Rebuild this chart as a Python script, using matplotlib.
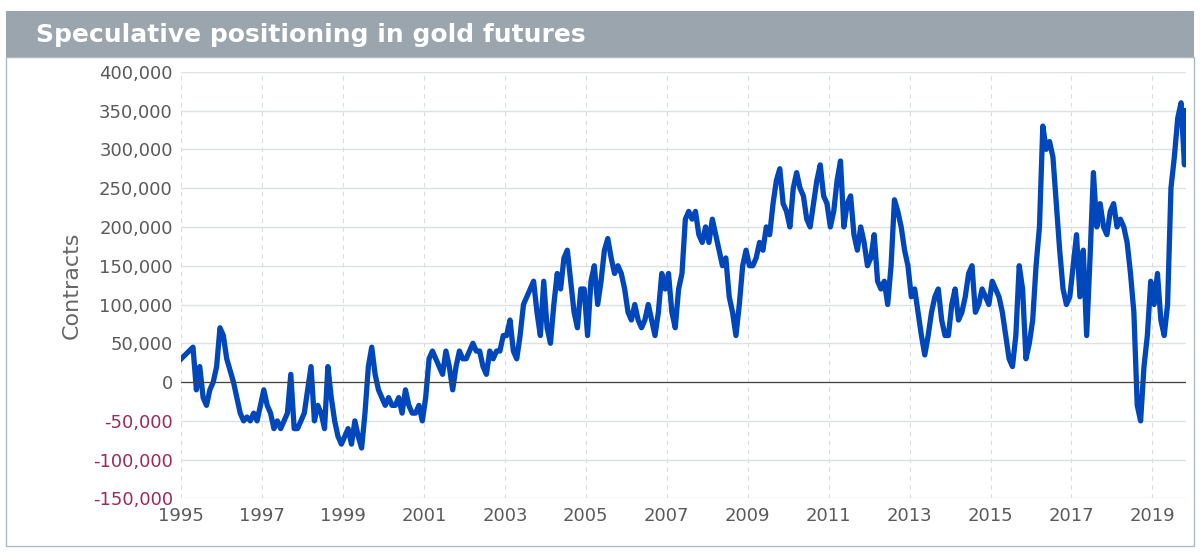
import numpy as np
import matplotlib.pyplot as plt
from matplotlib.ticker import FuncFormatter, MultipleLocator

# monthly net speculative positions (contracts), from April 1995
start_year = 1995.25
positions = [
    # 1995 (Apr-Dec)
    45000, -10000, 20000, -20000, -30000, -10000, 0, 20000, 70000,
    # 1996
    60000, 30000, 15000, 0, -20000, -40000, -50000, -45000, -50000, -40000, -50000, -30000,
    # 1997
    -10000, -30000, -40000, -60000, -50000, -60000, -50000, -40000, 10000, -60000, -60000, -50000,
    # 1998
    -40000, -10000, 20000, -50000, -30000, -40000, -60000, 20000, -20000, -50000, -70000, -80000,
    # 1999
    -70000, -60000, -80000, -50000, -70000, -85000, -40000, 20000, 45000, 10000, -10000, -20000,
    # 2000
    -30000, -20000, -30000, -30000, -20000, -40000, -10000, -30000, -40000, -40000, -30000, -50000,
    # 2001
    -20000, 30000, 40000, 30000, 20000, 10000, 40000, 20000, -10000, 20000, 40000, 30000,
    # 2002
    30000, 40000, 50000, 40000, 40000, 20000, 10000, 40000, 30000, 40000, 40000, 60000,
    # 2003
    60000, 80000, 40000, 30000, 60000, 100000, 110000, 120000, 130000, 90000, 60000, 130000,
    # 2004
    70000, 50000, 100000, 140000, 120000, 160000, 170000, 130000, 90000, 70000, 120000, 120000,
    # 2005
    60000, 130000, 150000, 100000, 130000, 170000, 185000, 160000, 140000, 150000, 140000, 120000,
    # 2006
    90000, 80000, 100000, 80000, 70000, 80000, 100000, 80000, 60000, 90000, 140000, 120000,
    # 2007
    140000, 90000, 70000, 120000, 140000, 210000, 220000, 210000, 220000, 190000, 180000, 200000,
    # 2008
    180000, 210000, 190000, 170000, 150000, 160000, 110000, 90000, 60000, 100000, 150000, 170000,
    # 2009
    150000, 150000, 160000, 180000, 170000, 200000, 190000, 230000, 260000, 275000, 230000, 220000,
    # 2010
    200000, 250000, 270000, 250000, 240000, 210000, 200000, 230000, 260000, 280000, 240000, 230000,
    # 2011
    200000, 220000, 260000, 285000, 200000, 230000, 240000, 190000, 170000, 200000, 180000, 150000,
    # 2012
    160000, 190000, 130000, 120000, 130000, 100000, 150000, 235000, 220000, 200000, 170000, 150000,
    # 2013
    110000, 120000, 90000, 60000, 35000, 60000, 90000, 110000, 120000, 80000, 60000, 60000,
    # 2014
    100000, 120000, 80000, 90000, 110000, 140000, 150000, 90000, 100000, 120000, 110000, 100000,
    # 2015
    130000, 120000, 110000, 90000, 60000, 30000, 20000, 60000, 150000, 120000, 30000, 50000,
    # 2016
    80000, 150000, 200000, 330000, 300000, 310000, 290000, 230000, 170000, 120000, 100000, 110000,
    # 2017
    150000, 190000, 110000, 170000, 60000, 160000, 270000, 200000, 230000, 200000, 190000, 220000,
    # 2018
    230000, 200000, 210000, 200000, 180000, 140000, 90000, -30000, -50000, 20000, 60000, 130000,
    # 2019
    100000, 140000, 80000, 60000, 100000, 250000, 290000, 340000, 360000, 280000,
]
first_value = 30000
end_value = 350000

t = start_year + (np.arange(len(positions)) + 0.5) / 12
t = np.append(np.insert(t, 0, 1995.0), 2019.82)
y = np.append(np.insert(np.array(positions, dtype=float), 0, first_value), end_value)

fig = plt.figure(figsize=(12, 5.52), dpi=100)
fig.patch.set_facecolor("white")

# title bar and frame
fig.patches.append(plt.Rectangle((0.005, 0.897), 0.99, 0.083, transform=fig.transFigure,
                                 facecolor="#9ba5ae", edgecolor="none"))
fig.patches.append(plt.Rectangle((0.005, 0.01), 0.99, 0.887, transform=fig.transFigure,
                                 facecolor="none", edgecolor="#b0b8c0", lw=1))
fig.text(0.03, 0.937, "Speculative positioning in gold futures", color="white",
         fontsize=18, fontweight="bold", va="center", family="DejaVu Sans")

ax = fig.add_axes([0.151, 0.097, 0.837, 0.773])
ax.plot(t, y, color="#0047bb", lw=3.8, solid_joinstyle="round")
ax.axhline(0, color="#444444", lw=0.9)

ax.set_xlim(1995, 2019.82)
ax.set_ylim(-150000, 400000)
ax.yaxis.set_major_locator(MultipleLocator(50000))
ax.set_xticks(range(1995, 2020, 2))
ax.yaxis.set_major_formatter(FuncFormatter(lambda v, p: "0" if v == 0 else f"{v:,.0f}"))
ax.grid(axis="y", color="#dde1e4", lw=1)
ax.grid(axis="x", color="#d8dcdf", lw=0.8, ls=(0, (4, 4)))
ax.set_axisbelow(True)
for s in ax.spines.values():
    s.set_visible(False)
ax.tick_params(length=0, labelsize=13, labelcolor="#5a5a5a", pad=6)
fig.canvas.draw()
for lbl, v in zip(ax.get_yticklabels(), ax.get_yticks()):
    if v < 0:
        lbl.set_color("#9b2b5a")
ax.set_ylabel("Contracts", fontsize=16, color="#666666", labelpad=8)

fig.savefig("out.png", dpi=100)
